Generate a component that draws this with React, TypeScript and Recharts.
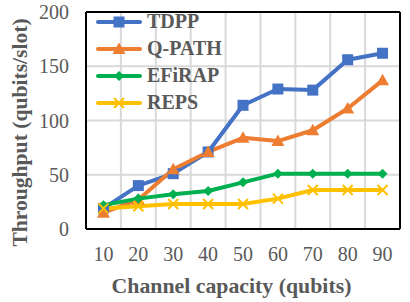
import React from "react"
import {
  LineChart,
  Line,
  XAxis,
  YAxis,
  CartesianGrid,
  ReferenceLine,
  Legend,
  Label,
} from "recharts"

// ============================================================
// Data
// ============================================================

const capacity = [10, 20, 30, 40, 50, 60, 70, 80, 90]
const tdpp = [19, 40, 51, 71, 114, 129, 128, 156, 162]
const qpath = [15, 27, 55, 71, 84, 81, 91, 111, 137]
const efirap = [22, 28, 32, 35, 43, 51, 51, 51, 51]
const reps = [19, 21, 23, 23, 23, 28, 36, 36, 36]

const yTicks = [0, 50, 100, 150, 200]
const yMinorTicks = [0, 10, 20, 30, 40, 50, 60, 70, 80, 90, 100, 110, 120, 130, 140, 150, 160, 170, 180, 190, 200]
const xBoundaries = [15, 25, 35, 45, 55, 65, 75, 85]
const xMinorTicks = [5, 10, 15, 20, 25, 30, 35, 40, 45, 50, 55, 60, 65, 70, 75, 80, 85, 90, 95]

type Shape = "square" | "triangle" | "diamond" | "cross"

const series: { key: string; name: string; color: string; shape: Shape }[] = [
  { key: "tdpp", name: "TDPP", color: "#4472C4", shape: "square" },
  { key: "qpath", name: "Q-PATH", color: "#ED7D31", shape: "triangle" },
  { key: "efirap", name: "EFiRAP", color: "#00B050", shape: "diamond" },
  { key: "reps", name: "REPS", color: "#FFC000", shape: "cross" },
]

const chartData = capacity.map((c, i) => ({
  cap: c,
  tdpp: tdpp[i],
  qpath: qpath[i],
  efirap: efirap[i],
  reps: reps[i],
}))

// ============================================================
// Styles
// ============================================================

const FONT = "'Liberation Serif', 'Times New Roman', serif"
const TEXT = "#595959"
const GRID = "#D9D9D9"

// ============================================================
// Markers
// ============================================================

function marker(shape: Shape, color: string, cx: number, cy: number, key?: string) {
  switch (shape) {
    case "square":
      return <rect key={key} x={cx - 5.5} y={cy - 5.5} width={11} height={11} fill={color} />
    case "triangle":
      return (
        <polygon
          key={key}
          points={`${cx},${cy - 6.5} ${cx + 6.5},${cy + 5} ${cx - 6.5},${cy + 5}`}
          fill={color}
        />
      )
    case "diamond":
      return (
        <polygon
          key={key}
          points={`${cx},${cy - 5} ${cx + 5},${cy} ${cx},${cy + 5} ${cx - 5},${cy}`}
          fill={color}
        />
      )
    default:
      return (
        <path
          key={key}
          d={`M${cx - 5},${cy - 5}L${cx + 5},${cy + 5}M${cx + 5},${cy - 5}L${cx - 5},${cy + 5}`}
          stroke={color}
          strokeWidth={2}
          fill="none"
        />
      )
  }
}

function LegendBox() {
  return (
    <div style={{ fontFamily: FONT }}>
      {series.map((s) => (
        <div key={s.key} style={{ display: "flex", alignItems: "center", height: 27 }}>
          <svg width={48} height={14} style={{ marginRight: 3 }}>
            <line x1={2} y1={7} x2={44} y2={7} stroke={s.color} strokeWidth={4} strokeLinecap="round" />
            {marker(s.shape, s.color, 23, 7)}
          </svg>
          <span style={{ fontSize: 20, fontWeight: 700, color: TEXT, lineHeight: "27px" }}>{s.name}</span>
        </div>
      ))}
    </div>
  )
}

// ============================================================
// Chart
// ============================================================

export default function App() {
  return (
    <div style={{ position: "absolute", left: 0, top: 0, background: "#fff", fontFamily: FONT }}>
      <LineChart width={410} height={302} data={chartData} margin={{ top: 12, right: 10, left: 0, bottom: 0 }}>
        <CartesianGrid vertical={false} stroke={GRID} strokeWidth={2} />
        {xBoundaries.map((v) => (
          <ReferenceLine key={v} x={v} stroke={GRID} strokeWidth={2} />
        ))}
        <ReferenceLine y={200} stroke="#000" strokeWidth={2} />
        <ReferenceLine x={95} stroke="#000" strokeWidth={2} />
        <XAxis
          dataKey="cap"
          type="number"
          domain={[5, 95]}
          ticks={capacity}
          height={73}
          tickLine={false}
          tickSize={6}
          tickMargin={12}
          axisLine={{ stroke: "#000", strokeWidth: 2 }}
          tick={{ fill: TEXT, fontSize: 20, fontFamily: FONT }}
        >
          <Label
            content={({ viewBox }: any) => (
              <text
                x={viewBox.x + viewBox.width / 2 - 11.5}
                y={viewBox.y + 64}
                textAnchor="middle"
                style={{ fontFamily: FONT }}
                fontSize={21.8}
                fontWeight={700}
                fill={TEXT}
              >
                Channel capacity (qubits)
              </text>
            )}
          />
        </XAxis>
        <XAxis
          xAxisId="minor"
          dataKey="cap"
          type="number"
          domain={[5, 95]}
          ticks={xMinorTicks}
          mirror
          height={1}
          tick={false}
          tickSize={5}
          axisLine={false}
          tickLine={{ stroke: "#000", strokeWidth: 2 }}
        />
        <YAxis
          domain={[0, 200]}
          ticks={yTicks}
          width={86}
          tickLine={false}
          tickSize={6}
          tickMargin={11}
          axisLine={{ stroke: "#000", strokeWidth: 2 }}
          tick={{ fill: TEXT, fontSize: 20, fontFamily: FONT }}
        >
          <Label
            content={({ viewBox }: any) => {
              const x = 27
              const y = viewBox.y + viewBox.height / 2 + 12
              return (
                <text
                  x={x}
                  y={y}
                  transform={`rotate(-90 ${x} ${y})`}
                  textAnchor="middle"
                  style={{ fontFamily: FONT }}
                  fontSize={21.6}
                  fontWeight={700}
                  fill={TEXT}
                >
                  Throughput (qubits/slot)
                </text>
              )
            }}
          />
        </YAxis>
        <YAxis
          yAxisId="minor"
          domain={[0, 200]}
          ticks={yMinorTicks}
          mirror
          width={1}
          tick={false}
          tickSize={5}
          axisLine={false}
          tickLine={{ stroke: "#000", strokeWidth: 2 }}
        />
        <Legend
          layout="vertical"
          align="center"
          verticalAlign="middle"
          wrapperStyle={{ left: 96, top: 8, width: "auto" }}
          content={() => <LegendBox />}
        />
        {series.map((s) => (
          <Line
            key={s.key}
            type="linear"
            dataKey={s.key}
            name={s.name}
            stroke={s.color}
            strokeWidth={4}
            strokeLinejoin="round"
            dot={(p: any) => marker(s.shape, s.color, p.cx, p.cy, `${s.key}-${p.index}`)}
            activeDot={false}
            isAnimationActive={false}
          />
        ))}
      </LineChart>
    </div>
  )
}
